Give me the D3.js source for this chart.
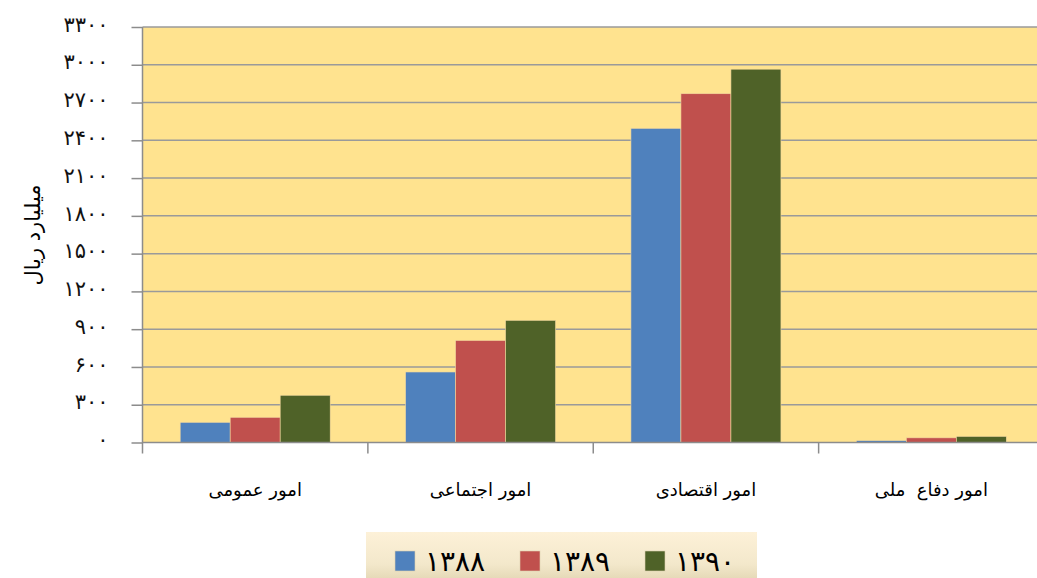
<!DOCTYPE html>
<meta charset="utf-8">
<style>
body { margin: 0; padding: 0; background: #fff; }
svg { display: block; }
.tick-y { font-family: "DejaVu Sans", sans-serif; font-size: 21px; fill: #111; letter-spacing: 2px; }
.cat { font-family: "DejaVu Sans", sans-serif; font-size: 18px; fill: #000; }
</style>
<body>
<svg id="chart" width="1037" height="578"></svg>
<script src="https://cdn.jsdelivr.net/npm/d3@7/dist/d3.min.js"></script>
<script>

// categories and series (values in billion rials)
var categories = ["امور عمومی", "امور اجتماعی", "امور اقتصادی", "امور دفاع  ملی"];
var years = ["۱۳۸۸", "۱۳۸۹", "۱۳۹۰"];
var colors = ["#4F81BD", "#C0504D", "#4F6228"];
var v1388 = [160, 560, 2495, 15];
var v1389 = [200, 810, 2770, 37];
var v1390 = [375, 970, 2965, 48];
var yTicks = [0, 300, 600, 900, 1200, 1500, 1800, 2100, 2400, 2700, 3000, 3300];

var series = [v1388, v1389, v1390];

var fa = function(n) {
  return String(n).replace(/[0-9]/g, function(d) { return "۰۱۲۳۴۵۶۷۸۹"[+d]; });
};

var svg = d3.select("#chart");
var pLeft = 142.5, pRight = 1044, pTop = 27, pBottom = 442.5;

var x = d3.scaleBand().domain(d3.range(categories.length)).range([pLeft, pRight]);
var y = d3.scaleLinear().domain([0, 3300]).range([pBottom, pTop]);

// plot background
svg.append("rect")
  .attr("x", pLeft).attr("y", pTop)
  .attr("width", pRight - pLeft).attr("height", pBottom - pTop)
  .attr("fill", "#FFE38F");

// gridlines
svg.append("g").selectAll("line")
  .data(yTicks.slice(1))
  .join("line")
  .attr("x1", pLeft).attr("x2", pRight)
  .attr("y1", function(d) { return y(d); })
  .attr("y2", function(d) { return y(d); })
  .attr("stroke", "#9a9a9a").attr("stroke-width", 1.5);

// bars
var bw = 50;
series.forEach(function(vals, s) {
  svg.append("g").selectAll("rect")
    .data(vals)
    .join("rect")
    .attr("x", function(d, i) { return x(i) + x.bandwidth() / 2 - 1.5 * bw + s * bw; })
    .attr("y", function(d) { return y(d); })
    .attr("width", bw)
    .attr("height", function(d) { return pBottom - y(d); })
    .attr("fill", colors[s])
    .attr("stroke", "#f3d9a0").attr("stroke-width", 0.6);
});

// y axis
var yAxis = d3.axisLeft(y).tickValues(yTicks).tickSize(11).tickFormat(fa);
var gy = svg.append("g").attr("transform", "translate(" + pLeft + ",0)").call(yAxis);
gy.select(".domain").remove();
gy.selectAll(".tick line").attr("stroke", "#8c8c8c").attr("stroke-width", 1.5);
gy.selectAll(".tick text").attr("class", "tick-y").attr("x", -34).attr("dy", "0.2em");
svg.append("line")
  .attr("x1", pLeft).attr("x2", pLeft).attr("y1", pTop).attr("y2", pBottom + 11)
  .attr("stroke", "#8c8c8c").attr("stroke-width", 1.5);

// x axis
svg.append("line")
  .attr("x1", pLeft).attr("x2", pRight).attr("y1", pBottom).attr("y2", pBottom)
  .attr("stroke", "#8c8c8c").attr("stroke-width", 1.5);
svg.append("g").selectAll("line")
  .data(d3.range(1, categories.length))
  .join("line")
  .attr("x1", function(i) { return x(i); }).attr("x2", function(i) { return x(i); })
  .attr("y1", pBottom).attr("y2", pBottom + 11)
  .attr("stroke", "#8c8c8c").attr("stroke-width", 1.5);
svg.append("g").selectAll("text")
  .data(categories)
  .join("text")
  .attr("class", "cat")
  .attr("x", function(d, i) { return x(i) + x.bandwidth() / 2; })
  .attr("y", 496)
  .attr("text-anchor", "middle")
  .attr("direction", "rtl")
  .style("white-space", "pre")
  .text(function(d) { return d; });

// y axis title
svg.append("text")
  .attr("class", "cat")
  .style("font-size", "21px")
  .attr("transform", "translate(40,235) rotate(-90)")
  .attr("text-anchor", "middle")
  .attr("direction", "rtl")
  .text("میلیارد ریال");

// legend
var grad = svg.append("defs").append("linearGradient")
  .attr("id", "lg").attr("x1", 0).attr("y1", 0).attr("x2", 0).attr("y2", 1);
grad.append("stop").attr("offset", "0%").attr("stop-color", "#FDF1D8");
grad.append("stop").attr("offset", "70%").attr("stop-color", "#F3E8CB");
grad.append("stop").attr("offset", "100%").attr("stop-color", "#E6DAB8");
svg.append("rect")
  .attr("x", 366).attr("y", 532).attr("width", 391).attr("height", 46)
  .attr("fill", "url(#lg)");

var lx = [395, 520, 645];
var lg = svg.append("g").selectAll("g")
  .data(years)
  .join("g")
  .attr("transform", function(d, i) { return "translate(" + lx[i] + ",551)"; });
lg.append("rect")
  .attr("width", 20).attr("height", 20)
  .attr("fill", function(d, i) { return colors[i]; })
  .attr("stroke", "#ddd0b0").attr("stroke-width", 0.6);
lg.append("text")
  .attr("class", "cat")
  .style("font-size", "28px")
  .style("letter-spacing", "8px")
  .attr("x", 30).attr("y", 20)
  .text(function(d) { return d; });

</script>
</body>
